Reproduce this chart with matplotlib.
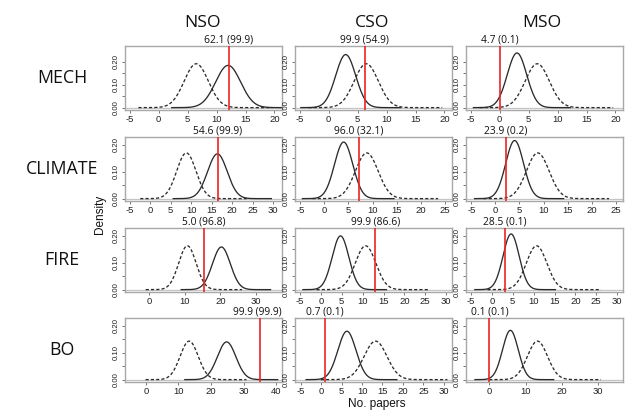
import numpy as np
import matplotlib
matplotlib.use("Agg")
import matplotlib.pyplot as plt
import matplotlib.transforms as mtransforms
from matplotlib import font_manager

# ---------------- data ----------------
row_names = ["MECH", "CLIMATE", "FIRE", "BO"]
col_names = ["NSO", "CSO", "MSO"]

# expected (dashed) distribution, one per row
null_mean = [6.5, 8.8, 10.7, 13.3]
null_sd = [2.08, 2.35, 2.45, 2.79]

# observed (solid) distribution, per panel [row][col]
obs_mean = [[12.0, 2.95, 3.0],
            [16.4, 4.0, 4.0],
            [20.3, 4.7, 4.6],
            [24.8, 6.3, 5.8]]
obs_sd = [[2.16, 1.72, 1.67],
          [2.40, 1.90, 1.85],
          [2.52, 2.00, 1.93],
          [2.85, 2.22, 2.18]]

# observed value (red line), per panel
red_value = [[12.1, 6.2, 0.0],
             [16.5, 7.1, 2.2],
             [15.3, 13.0, 3.2],
             [34.9, 1.0, 0.0]]

pct_labels = [["62.1 (99.9)", "99.9 (54.9)", "4.7 (0.1)"],
              ["54.6 (99.9)", "96.0 (32.1)", "23.9 (0.2)"],
              ["5.0 (96.8)", "99.9 (86.6)", "28.5 (0.1)"],
              ["99.9 (99.9)", "0.7 (0.1)", "0.1 (0.1)"]]

xtick_vals = [[list(range(-5, 21, 5))] * 3,
              [list(range(-5, 31, 5)), list(range(-5, 26, 5)), list(range(-5, 26, 5))],
              [list(range(0, 31, 10)), list(range(-5, 31, 5)), list(range(-5, 31, 5))],
              [list(range(0, 41, 10)), list(range(-5, 31, 5)), list(range(0, 31, 10))]]
ytick_vals = [0.0, 0.05, 0.10, 0.15, 0.20]
ytick_labels = ["0.00", "", "0.10", "", "0.20"]

# ---------------- layout ----------------
W, H = 628, 415
fig = plt.figure(figsize=(W / 100, H / 100), dpi=100)

col_left = [125, 295, 466]
col_w = 157
row_top = [46, 137, 228, 318]
row_h = 64

xlims = [[(-5.8, 21.3)] * 3,
         [(-6.2, 32.2), (-6.1, 26.5), (-6.1, 26.5)],
         [(-6.9, 37.4), (-6.2, 31.4), (-6.2, 31.4)],
         [(-6.4, 41.8), (-6.4, 32.0), (-6.5, 37.0)]]
ylims = [(-0.0104, 0.2694), (-0.0088, 0.2288), (-0.0088, 0.2288), (-0.0088, 0.2288)]

frame_col = "#a8a8a8"
curve_col = "#2b2b2b"
tick_font = "Liberation Sans"
installed = {f.name for f in font_manager.fontManager.ttflist}
ytick_font = "Liberation Sans Narrow" if "Liberation Sans Narrow" in installed else tick_font
title_font = "Open Sans"

def normal_pdf(x, m, s):
    return np.exp(-0.5 * ((x - m) / s) ** 2) / (s * np.sqrt(2 * np.pi))

fig.canvas.draw()
renderer = fig.canvas.get_renderer()

for r in range(4):
    for c in range(3):
        l = col_left[c]
        t = row_top[r]
        ax = fig.add_axes([l / W, 1 - (t + row_h) / H, col_w / W, row_h / H])
        ax.set_xlim(*xlims[r][c])
        ax.set_ylim(*ylims[r])
        for sp in ax.spines.values():
            sp.set_color(frame_col)
            sp.set_linewidth(1.0)
        ax.axhline(0, color="#c4c4c4", lw=0.9, zorder=1)

        m0, s0 = null_mean[r], null_sd[r]
        xd = np.linspace(m0 - 4.8 * s0, m0 + 6.3 * s0, 300)
        ax.plot(xd, normal_pdf(xd, m0, s0), color=curve_col, lw=0.95,
                dashes=(2.4, 1.6), zorder=2)

        m1, s1 = obs_mean[r][c], obs_sd[r][c]
        xs = np.linspace(m1 - 4.5 * s1, m1 + 5.5 * s1, 300)
        ax.plot(xs, normal_pdf(xs, m1, s1), color=curve_col, lw=0.95, zorder=2)

        ax.axvline(red_value[r][c], color="#ee2424", lw=1.2, zorder=3)

        ax.set_xticks(xtick_vals[r][c])
        ax.set_xticklabels([str(v) for v in xtick_vals[r][c]],
                           fontsize=6.8, family=tick_font, color="#222222")
        ax.set_yticks(ytick_vals)
        ax.set_yticklabels(ytick_labels, fontsize=5.6, family=ytick_font,
                           color="#222222", rotation=90, va="center", ha="right")
        ax.tick_params(axis="x", direction="out", length=2.5, width=0.7,
                       color="#777777", pad=1.0)
        ax.tick_params(axis="y", direction="out", length=2.5, width=0.7,
                       color="#777777", pad=1.5)

        trans = mtransforms.blended_transform_factory(ax.transData, ax.transAxes)
        txt = ax.text(red_value[r][c], 1.06, pct_labels[r][c], transform=trans,
                      ha="center", va="baseline", fontsize=7.4,
                      family=title_font, color="#111111")
        bb = txt.get_window_extent(renderer=renderer)
        axbb = ax.get_window_extent(renderer=renderer)
        if bb.x1 > axbb.x1:
            txt.set_transform(ax.transAxes)
            txt.set_position((1.0, 1.06))
            txt.set_ha("right")
        elif bb.x0 < axbb.x0:
            txt.set_transform(ax.transAxes)
            txt.set_position((0.0, 1.06))
            txt.set_ha("left")

# column headers
col_center = [203, 372, 542]
for c, name in enumerate(col_names):
    fig.text(col_center[c] / W, 1 - 27.3 / H, name, ha="center", va="baseline",
             fontsize=12.6, family=title_font, color="#111111")

# row labels
for r, name in enumerate(row_names):
    fig.text(62 / W, 1 - (row_top[r] + row_h / 2) / H, name, ha="center",
             va="center", fontsize=12.8, family=title_font, color="#111111")

fig.text(100 / W, 1 - 214 / H, "Density", rotation=90, ha="center", va="center",
         fontsize=8.5, family=tick_font, color="#111111")
fig.text(377 / W, 1 - 406.7 / H, "No. papers", ha="center", va="baseline",
         fontsize=8.5, family=tick_font, color="#111111")

fig.savefig("out.png", dpi=100)
